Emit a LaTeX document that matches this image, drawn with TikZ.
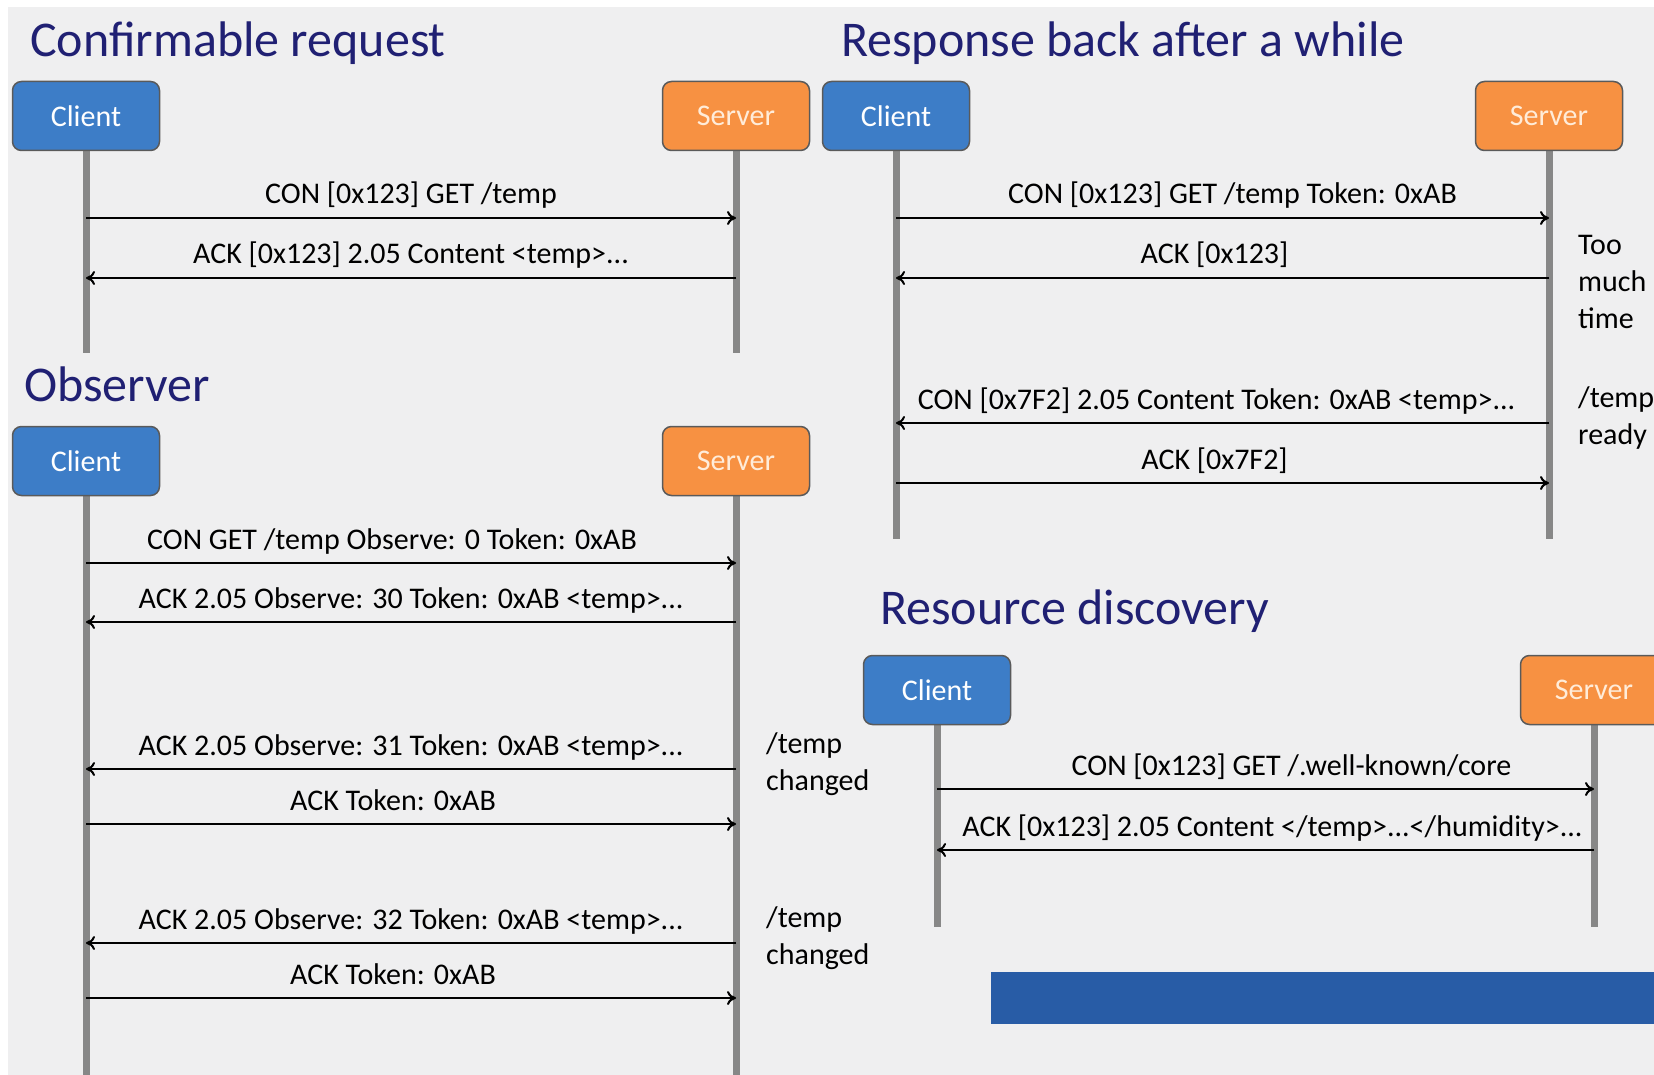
\documentclass[tikz,border=0pt]{standalone}
\usepackage{fontspec}
\setmainfont{Carlito}
\usetikzlibrary{arrows.meta}
\definecolor{clientblue}{RGB}{61,125,199}
\definecolor{serverorange}{RGB}{247,145,66}
\definecolor{boxedge}{RGB}{90,90,90}
\definecolor{lifegray}{RGB}{135,135,135}
\definecolor{titlenavy}{RGB}{32,32,115}
\definecolor{slidegray}{RGB}{239,239,240}
\definecolor{barblue}{RGB}{40,92,166}

\begin{document}
\begin{tikzpicture}[x=1pt,y=-1pt]
\tikzset{font=\fontsize{30}{37}\selectfont}
\tikzset{actor/.style={draw=boxedge, line width=1.5pt, rounded corners=9pt, minimum width=147pt, minimum height=69pt, inner sep=0pt}}
\tikzset{client/.style={actor, fill=clientblue, text=white}}
\tikzset{server/.style={actor, fill=serverorange, text=orange!15}}
\tikzset{lifeline/.style={draw=lifegray, line width=7pt}}
\tikzset{msg/.style={draw, line width=2pt, -{To[length=9pt,width=14pt]}}}
\tikzset{msgtext/.style={anchor=base, yshift=14pt, inner sep=0pt}}
\tikzset{heading/.style={anchor=base west, inner sep=0pt, text=titlenavy, font=\fontsize{50}{58}\selectfont}}
\tikzset{note/.style={anchor=north west, inner sep=0pt, align=left}}

% slide
\useasboundingbox (0,0) rectangle (1654,1075);
\fill[white] (0,0) rectangle (1654,1075);
\fill[slidegray] (8,7) rectangle (1654,1075);
\fill[barblue] (991,972) rectangle (1654,1024);

% headings
\node[heading] (title1) at (30,57) {Confirmable request};
\node[heading] (title2) at (841,57) {Response back after a while};
\node[heading] (title3) at (24,401) {Observer};
\node[heading] (title4) at (880,624) {Resource discovery};

% lifeline ends
\coordinate (client1end) at (86,353);
\coordinate (server1end) at (736,353);
\coordinate (client2end) at (896,539);
\coordinate (server2end) at (1549,539);
\coordinate (client3end) at (86,1075);
\coordinate (server3end) at (736,1075);
\coordinate (client4end) at (937,927);
\coordinate (server4end) at (1594,927);

\draw[lifeline] (86,116) -- (client1end);
\draw[lifeline] (736,116) -- (server1end);
\draw[lifeline] (896,116) -- (client2end);
\draw[lifeline] (1549,116) -- (server2end);
\draw[lifeline] (86,461) -- (client3end);
\draw[lifeline] (736,461) -- (server3end);
\draw[lifeline] (937,690) -- (client4end);
\draw[lifeline] (1594,690) -- (server4end);

% actors
\node[client] (client1) at (86,116) {Client};
\node[server] (server1) at (736,116) {Server};
\node[client] (client2) at (896,116) {Client};
\node[server] (server2) at (1549,116) {Server};
\node[client] (client3) at (86,461) {Client};
\node[server] (server3) at (736,461) {Server};
\node[client] (client4) at (937,690) {Client};
\node[server] (server4) at (1594,690) {Server};

% confirmable request
\coordinate (c1m1) at (86,218);  \coordinate (s1m1) at (736,218);
\coordinate (c1m2) at (86,278);  \coordinate (s1m2) at (736,278);
\draw[msg] (c1m1) -- node[msgtext] {CON [0x123] GET /temp} (s1m1);
\draw[msg] (s1m2) -- node[msgtext] {ACK [0x123] 2.05 Content <temp>...} (c1m2);

% response back after a while
\coordinate (c2m1) at (896,218);  \coordinate (s2m1) at (1549,218);
\coordinate (c2m2) at (896,278);  \coordinate (s2m2) at (1549,278);
\coordinate (c2m3) at (896,423);  \coordinate (s2m3) at (1549,423);
\coordinate (c2m4) at (896,483);  \coordinate (s2m4) at (1549,483);
\draw[msg] (c2m1) -- node[msgtext, xshift=10pt] {CON [0x123] GET /temp Token: 0xAB} (s2m1);
\draw[msg] (s2m2) -- node[msgtext, xshift=-8pt] {ACK [0x123]} (c2m2);
\draw[msg] (s2m3) -- node[msgtext, xshift=-6pt] {CON [0x7F2] 2.05 Content Token: 0xAB <temp>...} (c2m3);
\draw[msg] (c2m4) -- node[msgtext, xshift=-8pt] {ACK [0x7F2]} (s2m4);
\node[note] (late) at (1578,235) {Too\\much\\time};
\node[note] (ready) at (1578,386) {/temp\\ready};

% observer
\coordinate (c3m1) at (86,563);  \coordinate (s3m1) at (736,563);
\coordinate (c3m2) at (86,622);  \coordinate (s3m2) at (736,622);
\coordinate (c3m3) at (86,769);  \coordinate (s3m3) at (736,769);
\coordinate (c3m4) at (86,824);  \coordinate (s3m4) at (736,824);
\coordinate (c3m5) at (86,943);  \coordinate (s3m5) at (736,943);
\coordinate (c3m6) at (86,998);  \coordinate (s3m6) at (736,998);
\draw[msg] (c3m1) -- node[msgtext, xshift=-19pt] {CON GET /temp Observe: 0 Token: 0xAB} (s3m1);
\draw[msg] (s3m2) -- node[msgtext] {ACK 2.05 Observe: 30 Token: 0xAB <temp>...} (c3m2);
\draw[msg] (s3m3) -- node[msgtext] {ACK 2.05 Observe: 31 Token: 0xAB <temp>...} (c3m3);
\draw[msg] (c3m4) -- node[msgtext, xshift=-18pt] {ACK Token: 0xAB} (s3m4);
\draw[msg] (s3m5) -- node[msgtext] {ACK 2.05 Observe: 32 Token: 0xAB <temp>...} (c3m5);
\draw[msg] (c3m6) -- node[msgtext, xshift=-18pt] {ACK Token: 0xAB} (s3m6);
\node[note] (change1) at (766,732) {/temp\\changed};
\node[note] (change2) at (766,906) {/temp\\changed};

% resource discovery
\coordinate (c4m1) at (937,789);  \coordinate (s4m1) at (1594,789);
\coordinate (c4m2) at (937,850);  \coordinate (s4m2) at (1594,850);
\draw[msg] (c4m1) -- node[msgtext, xshift=26pt] {CON [0x123] GET /.well-known/core} (s4m1);
\draw[msg] (s4m2) -- node[msgtext, xshift=7pt] {ACK [0x123] 2.05 Content </temp>...</humidity>...} (c4m2);
\end{tikzpicture}
\end{document}
